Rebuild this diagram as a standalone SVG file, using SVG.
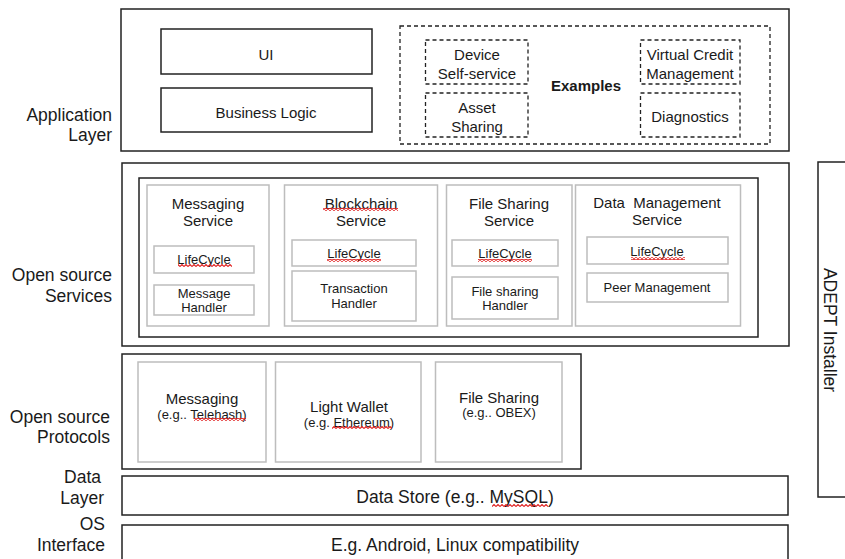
<svg xmlns="http://www.w3.org/2000/svg" width="845" height="559" viewBox="0 0 845 559">
<defs>
<pattern id="squiggle" patternUnits="userSpaceOnUse" width="4" height="3">
<path d="M0,2.5 L2,0.5 L4,2.5" fill="none" stroke="#e02020" stroke-width="1.1"/>
</pattern>
</defs>
<style>
text{font-family:"Liberation Sans",Arial,sans-serif;fill:#1a1a1a;dominant-baseline:central}
.lbl{font-size:17.5px;text-anchor:end}
.big{font-size:17.5px;text-anchor:middle}
.t15{font-size:15px;text-anchor:middle}
.t13{font-size:13px;text-anchor:middle}
.bold{font-weight:bold}
.box{fill:#fff;stroke:#222;stroke-width:1.5}
.gray{fill:none;stroke:#bdbdbd;stroke-width:1.5}
.dash{fill:none;stroke:#222;stroke-width:1.3;stroke-dasharray:4 3}
.sq{fill:url(#squiggle)}
</style>
<rect width="845" height="559" fill="#fff"/>

<g id="layer-labels">
<text class="lbl" x="112" y="115">Application</text>
<text class="lbl" x="112" y="135">Layer</text>
<text class="lbl" x="112" y="275">Open source</text>
<text class="lbl" x="112" y="296">Services</text>
<text class="lbl" x="110" y="417">Open source</text>
<text class="lbl" x="110" y="437">Protocols</text>
<text class="lbl" x="101" y="477">Data</text>
<text class="lbl" x="104" y="498">Layer</text>
<text class="lbl" x="105" y="524">OS</text>
<text class="lbl" x="105" y="545">Interface</text>
</g>

<g id="application-layer">
<rect class="box" x="121" y="9" width="668" height="142"/>
<g id="ui"><rect class="box" x="161" y="29" width="211" height="45"/><text class="t15" x="266" y="54">UI</text></g>
<g id="business-logic"><rect class="box" x="161" y="88" width="211" height="44"/><text class="t15" x="266" y="112">Business Logic</text></g>
<g id="examples">
<rect class="dash" x="400" y="26" width="370" height="118"/>
<text class="t15 bold" x="586" y="85">Examples</text>
<g id="device-self-service"><rect class="dash" x="425.5" y="40" width="102.5" height="44"/><text class="t15" x="477" y="54">Device</text><text class="t15" x="477" y="73">Self-service</text></g>
<g id="asset-sharing"><rect class="dash" x="425.5" y="93" width="102.5" height="44"/><text class="t15" x="477" y="107">Asset</text><text class="t15" x="477" y="126">Sharing</text></g>
<g id="virtual-credit"><rect class="dash" x="640.5" y="40" width="99.5" height="44"/><text class="t15" x="690" y="54">Virtual Credit</text><text class="t15" x="690" y="73">Management</text></g>
<g id="diagnostics"><rect class="dash" x="640.5" y="93" width="99.5" height="44"/><text class="t15" x="690" y="116">Diagnostics</text></g>
</g>
</g>

<g id="open-source-services">
<rect class="box" x="122" y="163" width="667" height="183"/>
<rect class="box" x="139" y="178" width="619" height="159"/>
<g id="messaging-service">
<rect class="gray" x="147" y="185" width="122" height="141"/>
<text class="t15" x="208" y="203">Messaging</text><text class="t15" x="208" y="220">Service</text>
<rect class="gray" x="154" y="246" width="100" height="27"/><text class="t13" x="204" y="259">LifeCycle</text>
<rect class="sq" x="178" y="264" width="54" height="3"/>
<rect class="gray" x="154" y="285" width="100" height="30"/><text class="t13" x="204" y="293">Message</text><text class="t13" x="204" y="307">Handler</text>
</g>
<g id="blockchain-service">
<rect class="gray" x="284.5" y="185" width="153" height="141"/>
<text class="t15" x="361" y="203">Blockchain</text><text class="t15" x="361" y="220">Service</text>
<rect class="sq" x="323" y="208" width="75" height="3"/>
<rect class="gray" x="292" y="240" width="124" height="26"/><text class="t13" x="354" y="253">LifeCycle</text>
<rect class="sq" x="327" y="259" width="54" height="3"/>
<rect class="gray" x="292" y="271" width="124" height="50"/><text class="t13" x="354" y="288">Transaction</text><text class="t13" x="354" y="303">Handler</text>
</g>
<g id="file-sharing-service">
<rect class="gray" x="446.5" y="185" width="125.5" height="141"/>
<text class="t15" x="509" y="203">File Sharing</text><text class="t15" x="509" y="220">Service</text>
<rect class="gray" x="452" y="240" width="106" height="26"/><text class="t13" x="505" y="253">LifeCycle</text>
<rect class="sq" x="478" y="259" width="54" height="3"/>
<rect class="gray" x="452" y="277" width="106" height="42"/><text class="t13" x="505" y="291">File sharing</text><text class="t13" x="505" y="305">Handler</text>
</g>
<g id="data-management-service">
<rect class="gray" x="575.5" y="185" width="165" height="141"/>
<text class="t15" x="657" y="202" xml:space="preserve">Data  Management</text><text class="t15" x="657" y="219">Service</text>
<rect class="gray" x="587" y="237" width="141" height="27"/><text class="t13" x="657" y="251">LifeCycle</text>
<rect class="sq" x="631" y="257" width="54" height="3"/>
<rect class="gray" x="587" y="273" width="141" height="29"/><text class="t13" x="657" y="287">Peer Management</text>
</g>
</g>

<g id="open-source-protocols">
<rect class="box" x="122" y="354" width="459" height="115"/>
<g id="messaging-protocol">
<rect class="gray" x="138" y="362" width="128" height="100"/>
<text class="t15" x="202" y="398">Messaging</text><text class="t13" x="202" y="414">(e.g.. Telehash)</text>
<rect class="sq" x="194" y="418" width="52" height="3"/>
</g>
<g id="light-wallet">
<rect class="gray" x="275.5" y="362" width="145.5" height="100"/>
<text class="t15" x="349" y="406">Light Wallet</text><text class="t13" x="349" y="422">(e.g. Ethereum)</text>
<rect class="sq" x="332" y="426" width="60" height="3"/>
</g>
<g id="file-sharing-protocol">
<rect class="gray" x="435.5" y="362" width="126.5" height="100"/>
<text class="t15" x="499" y="397">File Sharing</text><text class="t13" x="499" y="412">(e.g.. OBEX)</text>
</g>
</g>

<g id="data-layer">
<rect class="box" x="122" y="476" width="666" height="39"/>
<text class="big" x="455" y="497">Data Store (e.g.. MySQL)</text>
<rect class="sq" x="492" y="504" width="56" height="3"/>
</g>

<g id="os-interface">
<rect class="box" x="122" y="525" width="666" height="40"/>
<text class="big" x="455" y="545">E.g. Android, Linux compatibility</text>
</g>

<g id="adept-installer">
<rect class="box" x="818" y="162" width="40" height="335"/>
<text class="big" transform="translate(830,330) rotate(90)" x="0" y="0">ADEPT Installer</text>
</g>

<g id="connectors"></g>
</svg>
